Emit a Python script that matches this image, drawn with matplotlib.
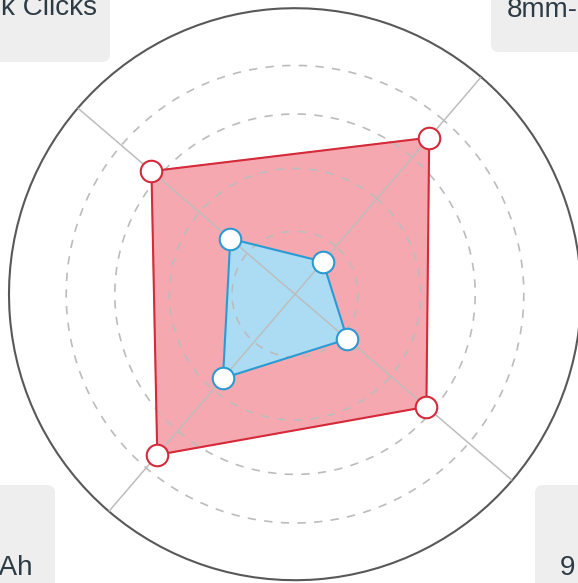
import numpy as np
import matplotlib
matplotlib.use('Agg')
import matplotlib.pyplot as plt
from matplotlib.patches import FancyBboxPatch
from matplotlib.transforms import IdentityTransform

# axes go counter-clockwise starting at the top-right one
categories = ['8mm-Thin', '50k Clicks', '500mAh', '9 Hours']
series_red = [72.1, 66.1, 74.0, 60.5]
series_blue = [15.0, 29.8, 38.7, 24.1]
grid_levels = [22, 44, 63, 80]
r_max = 100

W, H = 578, 583
fig = plt.figure(figsize=(W / 100, H / 100), dpi=100)
fig.patch.set_facecolor('white')

cx, cy, rad = 295, 294.2, 286
ax = fig.add_axes([(cx - rad) / W, (H - cy - rad) / H, 2 * rad / W, 2 * rad / H],
                  polar=True)

n = len(categories)
angles = np.arange(n) * 2 * np.pi / n
ax.set_theta_offset(np.deg2rad(49.4))
ax.set_ylim(0, r_max)
ax.set_xticks(angles)
ax.set_xticklabels([])
ax.set_yticks(grid_levels)
ax.set_yticklabels([])
ax.tick_params(length=0)
ax.set_axisbelow(False)
ax.xaxis.grid(True, color='#bdbdbd', lw=1.1, ls='-')
ax.yaxis.grid(True, color='#bcbcbc', lw=1.2, ls=(0, (5, 5)))
ax.spines['polar'].set_color('#585858')
ax.spines['polar'].set_linewidth(1.5)
ax.set_facecolor('white')

th = np.append(angles, angles[0])


def draw_series(vals, fill, edge):
    r = np.append(vals, vals[0])
    ax.fill(th, r, color=fill, zorder=1)
    ax.plot(th, r, color=edge, lw=1.5, zorder=3)
    ax.plot(angles, vals, ls='none', marker='o', ms=15.5, mfc='white',
            mec=edge, mew=1.5, zorder=4)


draw_series(series_red, '#f5a8b0', '#d42a3a')
draw_series(series_blue, '#abdcf4', '#2c9ad2')

# corner label boxes (partly outside the canvas)
box_color = '#eeeeee'
txt_color = '#2d3b45'
boxes = [((-20, H - 62), 130, 102), ((491, H - 52), 119, 92),
         ((-20, -37), 75, 135), ((535, -37), 75, 135)]
for (xy, w, h) in boxes:
    fig.add_artist(FancyBboxPatch(xy, w, h, boxstyle='round,pad=0,rounding_size=8',
                                  fc=box_color, ec='none',
                                  transform=IdentityTransform()))

font = 'Liberation Sans'
fig.text(97 / W, 1 - 15 / H, categories[1], ha='right', va='baseline',
         fontsize=20, color=txt_color, family=font)
fig.text(507 / W, 1 - 17 / H, categories[0], ha='left', va='baseline',
         fontsize=20, color=txt_color, family=font)
fig.text(33 / W, 1 - 575 / H, categories[2], ha='right', va='baseline',
         fontsize=20, color=txt_color, family=font)
fig.text(560 / W, 1 - 575 / H, categories[3], ha='left', va='baseline',
         fontsize=20, color=txt_color, family=font)

fig.savefig('out.png', dpi=100)
